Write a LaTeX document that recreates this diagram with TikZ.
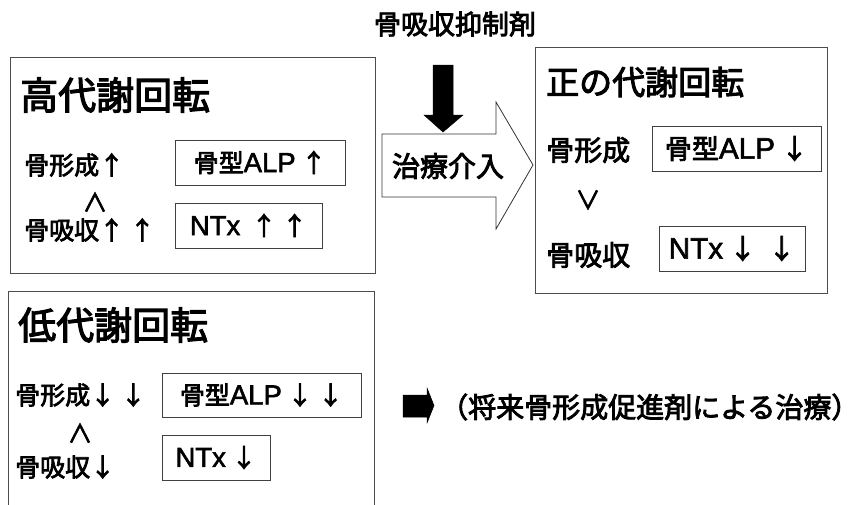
\documentclass[tikz,border=0pt]{standalone}
\usepackage{fontspec}
\setmainfont{Noto Sans CJK JP}[FakeBold=3]
\newfontfamily\lat{Liberation Sans}[FakeBold=2,Scale=1.1]
\newcommand{\la}[1]{{\lat #1}}
\begin{document}
\begin{tikzpicture}[x=1pt,y=-1pt,
  frame/.style={draw=black!70,line width=0.9pt},
  lbl/.style={inner sep=0pt,anchor=west,font=\fontsize{25}{30}\selectfont},
  ttl/.style={inner sep=0pt,anchor=west,font=\fontsize{38}{44}\selectfont},
  mbox/.style={draw=black!75,line width=0.9pt,inner sep=0pt,minimum height=45pt,font=\fontsize{25}{30}\selectfont},
  solidarrow/.style={fill=black,draw=black,line width=0.5pt},
  hollowarrow/.style={fill=white,draw=black!80,line width=0.8pt}]
\useasboundingbox (0,0) rectangle (860,504);
% frames
\draw[frame] (10,57) rectangle (375,273);
\draw[frame] (535,47) rectangle (827,293);
\draw[frame] (8,506) -- (8,291) -- (374,291) -- (374,506);
% top label and solid arrow
\node[inner sep=0pt,font=\fontsize{27}{32}\selectfont] (inh) at (455,24) {骨吸収抑制剤};
\draw[solidarrow] (433,65) -- (453,65) -- (453,115) -- (463,115) -- (443,132) -- (424,115) -- (433,115) -- cycle;
% hollow arrow
\draw[hollowarrow] (382,134) -- (496,134) -- (496,102) -- (533,165) -- (496,229) -- (496,197) -- (382,197) -- cycle;
\node[inner sep=0pt,font=\fontsize{28}{32}\selectfont] (tx) at (448,166) {治療介入};
% high turnover
\node[ttl] (hi) at (20,95) {高代謝回転};
\node[lbl] (hif) at (24,165) {骨形成↑};
\node[inner sep=0pt,font=\fontsize{25}{30}\selectfont] (hig) at (95,202) {∧};
\node[lbl] (hir) at (24,230) {骨吸収↑ ↑};
\node[mbox,minimum width=170pt] (hialp) at (260,162.5) {骨型\la{ALP} ↑};
\node[mbox,minimum width=147pt] (hintx) at (248.5,225.5) {\la{NTx} \ ↑ ↑};
% normal turnover
\node[inner sep=0pt,anchor=west,font=\fontsize{33}{38}\selectfont] (no) at (546,82) {正の代謝回転};
\node[lbl,font=\fontsize{28}{32}\selectfont] (nof) at (546,150) {骨形成};
\node[inner sep=0pt,font=\fontsize{25}{30}\selectfont] (nog) at (588,200) {∨};
\node[lbl,font=\fontsize{28}{32}\selectfont] (nor) at (546,255) {骨吸収};
\node[mbox,minimum width=169pt,font=\fontsize{27}{32}\selectfont] (noalp) at (736.5,148.5) {骨型\la{ALP} ↓};
\node[mbox,minimum width=146pt,font=\fontsize{27}{32}\selectfont] (nontx) at (732,248.5) {\la{NTx} ↓ \ ↓};
% low turnover
\node[ttl] (lo) at (18,325) {低代謝回転};
\node[lbl] (lof) at (15,395) {骨形成↓ ↓};
\node[inner sep=0pt,font=\fontsize{25}{30}\selectfont] (log) at (80,433) {∧};
\node[lbl] (lor) at (15,467) {骨吸収↓};
\node[mbox,minimum width=199pt,minimum height=44pt] (loalp) at (261.5,395) {骨型\la{ALP} ↓ ↓};
\node[mbox,minimum width=108pt] (lontx) at (216,457.5) {\la{NTx} ↓};
% future
\draw[solidarrow] (403,395) -- (427,395) -- (427,388) -- (434,405.5) -- (427,423) -- (427,417) -- (403,417) -- cycle;
\node[lbl,font=\fontsize{28}{32}\selectfont] (fut) at (440,407) {（将来骨形成促進剤による治療）};
\end{tikzpicture}
\end{document}
